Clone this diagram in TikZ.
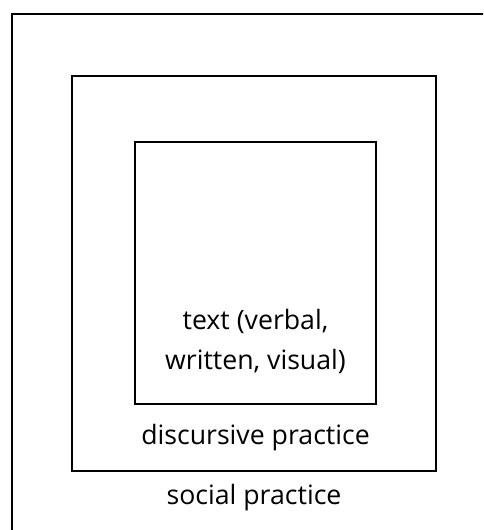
\documentclass[tikz,border=0pt]{standalone}
\usepackage{fontspec}
\setmainfont{Open Sans}
\usetikzlibrary{positioning}
\tikzset{
    level/.style={
           rectangle,
           draw=black, line width=2pt,
           inner sep=0pt,
           },
    caption/.style={
           font=\fontsize{20}{30}\selectfont,
           align=center,
           inner sep=0pt,
           },
}

\begin{document}
\begin{tikzpicture}[x=0.75pt,y=-0.75pt]

 \useasboundingbox (0,0) rectangle (483,530);
 \clip (0,0) rectangle (483,530);

 % the three nested levels
 \node[level, minimum width=363pt, minimum height=389.25pt] (Social) at (254,273.5) {};
 \node[level, minimum width=273pt, minimum height=296.25pt] (Discourse) at (254,273.5) {};
 \node[level, minimum width=180.75pt, minimum height=196.5pt] (Text) at (255.5,273) {};

 % labels
 \node[caption, above=27pt of Text.south, anchor=base] (TextLabel) {text (verbal,\\written, visual)};
 \node[caption, below=29.25pt of Text.south, anchor=base] (DiscLabel) {discursive practice};
 \node[caption, below=24pt of Discourse.south, anchor=base] (SocLabel) {social practice};

\end{tikzpicture}
\end{document}
